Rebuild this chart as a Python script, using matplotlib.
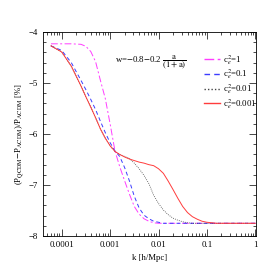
import numpy as np
import matplotlib
matplotlib.use('Agg')
import matplotlib.pyplot as plt
from matplotlib.ticker import MultipleLocator, LogLocator, FixedFormatter, NullFormatter

plt.rcParams['font.family'] = ['Liberation Serif', 'DejaVu Serif']
plt.rcParams['mathtext.fontset'] = 'stix'
plt.rcParams['font.size'] = 6.3

# k in h/Mpc (shared grid), values in %
k = [6.0e-5, 1.0e-4, 1.58e-4, 2.51e-4, 3.16e-4, 3.98e-4, 5.01e-4, 6.31e-4, 7.94e-4,
     1.0e-3, 1.26e-3, 1.58e-3, 2.0e-3, 2.51e-3, 3.16e-3, 3.98e-3, 5.01e-3, 6.31e-3,
     7.94e-3, 1.0e-2, 1.26e-2, 1.58e-2, 2.0e-2, 2.51e-2, 3.16e-2, 3.98e-2, 5.01e-2,
     6.31e-2, 7.94e-2, 0.1, 0.158, 0.251, 0.398, 0.631, 1.0]

c2_1 = [-4.23, -4.23, -4.23, -4.24, -4.28, -4.38, -4.58, -4.95, -5.30,
        -5.80, -6.33, -6.64, -6.92, -7.18, -7.42, -7.57, -7.66, -7.71,
        -7.74, -7.75, -7.75, -7.75, -7.75, -7.75, -7.75, -7.75, -7.75,
        -7.75, -7.75, -7.75, -7.75, -7.75, -7.75, -7.75, -7.75]

c2_01 = [-4.27, -4.36, -4.60, -4.95, -5.13, -5.32, -5.52, -5.75, -5.97,
         -6.17, -6.33, -6.44, -6.66, -6.92, -7.22, -7.45, -7.59, -7.66,
         -7.71, -7.73, -7.75, -7.75, -7.75, -7.75, -7.75, -7.75, -7.75,
         -7.75, -7.75, -7.75, -7.75, -7.75, -7.75, -7.75, -7.75]

c2_001 = [-4.27, -4.39, -4.67, -5.06, -5.27, -5.47, -5.68, -5.90, -6.08,
          -6.23, -6.34, -6.40, -6.44, -6.48, -6.57, -6.68, -6.81, -6.97,
          -7.20, -7.36, -7.49, -7.58, -7.65, -7.69, -7.72, -7.74, -7.75,
          -7.75, -7.75, -7.75, -7.75, -7.75, -7.75, -7.75, -7.75]

c2_0001 = [-4.27, -4.39, -4.67, -5.06, -5.27, -5.47, -5.68, -5.90, -6.08,
           -6.23, -6.34, -6.40, -6.45, -6.49, -6.52, -6.55, -6.57, -6.60,
           -6.62, -6.68, -6.77, -6.92, -7.09, -7.26, -7.42, -7.54, -7.62,
           -7.67, -7.71, -7.73, -7.75, -7.75, -7.75, -7.75, -7.75]

labels = [r'c$_e^2$=1', r'c$_e^2$=0.1', r'c$_e^2$=0.01', r'c$_e^2$=0.001']
xticks = [1e-4, 1e-3, 1e-2, 1e-1, 1]
xticklabels = ['0.0001', '0.001', '0.01', '0.1', '1']

fig = plt.figure(figsize=(2.79, 2.79), dpi=100, facecolor='white')
ax = fig.add_axes([0.154, 0.154, 0.764, 0.731])

l1, = ax.plot(k, c2_1, color='#ff3cff', lw=0.7, ls=(0, (7, 2.5, 2, 2.5)))
l2, = ax.plot(k, c2_01, color='#3c3cff', lw=0.7, ls=(0, (4, 3)))
l3, = ax.plot(k, c2_001, color='#444444', lw=0.6, ls=(0, (1, 1.5)))
l4, = ax.plot(k, c2_0001, color='#ff3c3c', lw=0.7)

ax.set_xscale('log')
ax.set_xlim(4.1e-5, 1.04)
ax.set_ylim(-8, -4)
ax.set_xticks(xticks)
ax.xaxis.set_major_formatter(FixedFormatter(xticklabels))
ax.xaxis.set_minor_locator(LogLocator(base=10, subs=np.arange(2, 10)))
ax.xaxis.set_minor_formatter(NullFormatter())
ax.yaxis.set_major_locator(MultipleLocator(1))
ax.yaxis.set_minor_locator(MultipleLocator(0.2))
ax.tick_params(which='both', direction='in', top=True, right=True, labelsize=6.3, width=0.5)
ax.tick_params(which='major', length=5)
ax.tick_params(which='minor', length=2.5)
for s in ax.spines.values():
    s.set_linewidth(0.6)

ax.set_xlabel('k [h/Mpc]', fontsize=6.3, labelpad=4)
ax.set_ylabel(r'(P$_{\rm QCDM}$$-$P$_{\Lambda\rm CDM}$)/P$_{\Lambda\rm CDM}$ [%]', fontsize=6.3, labelpad=2)

ax.text(0.338, 0.853, r'w=$-$0.8$-$0.2 $\dfrac{\rm a}{\rm (1+a)}$', transform=ax.transAxes,
        fontsize=6.3, va='center', ha='left')

leg = ax.legend([l1, l2, l3, l4], labels, loc='upper right', bbox_to_anchor=(1.02, 0.915),
                frameon=False, fontsize=6.3, handlelength=1.8, handletextpad=0.4,
                labelspacing=0.1, borderaxespad=0)
for h in leg.get_lines():
    h.set_linewidth(1.0)

plt.savefig('out.png', dpi=100)
